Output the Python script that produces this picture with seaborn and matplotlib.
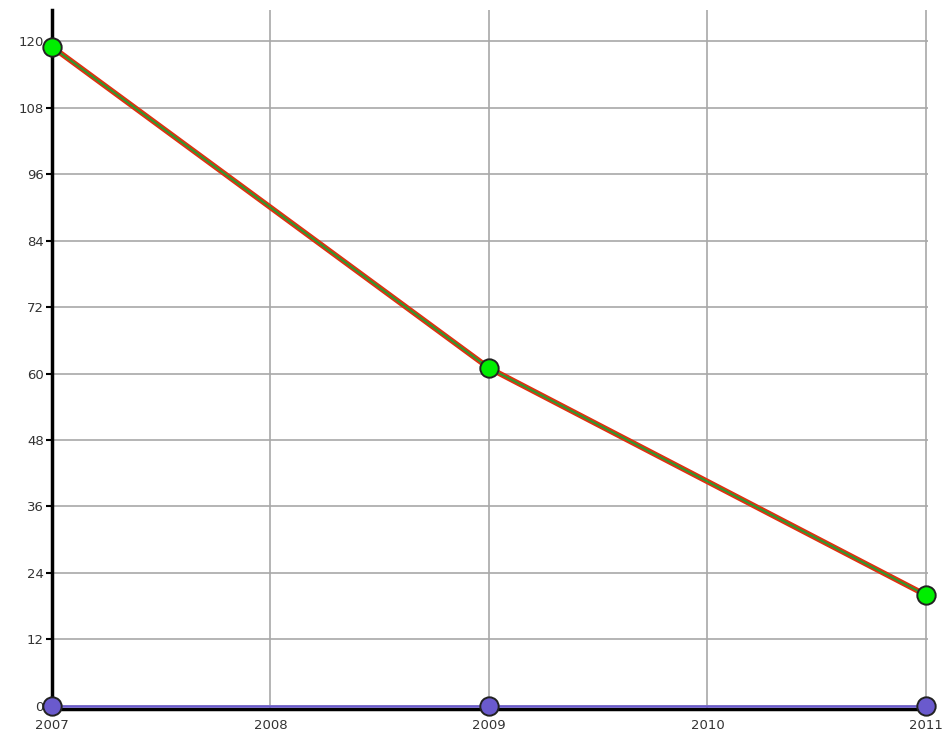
import matplotlib
matplotlib.use("Agg")
import matplotlib.pyplot as plt
import matplotlib.patheffects as pe
import pandas as pd
import seaborn as sns

# data
years = [2007, 2009, 2011]
series_a = [119, 61, 20]
series_b = [0, 0, 0]
yticks = list(range(0, 121, 12))
xticks = [2007, 2008, 2009, 2010, 2011]

df_a = pd.DataFrame({'year': years, 'value': series_a})
df_b = pd.DataFrame({'year': years, 'value': series_b})

sns.set_style('white')
plt.rcParams['font.family'] = ['DejaVu Sans']

fig = plt.figure(figsize=(9.46, 7.36), dpi=100)
ax = fig.add_axes([0.055, 0.037, 0.926, 0.949])

# lines
sns.lineplot(data=df_a, x='year', y='value', ax=ax, color='#2e9a2e', linewidth=1.5, zorder=3)
ax.lines[-1].set_path_effects([pe.Stroke(linewidth=4.0, foreground='#e03010'), pe.Normal()])
sns.lineplot(data=df_b, x='year', y='value', ax=ax, color='#6a5acd', linewidth=1.8, zorder=3)

# markers
sns.scatterplot(data=df_a, x='year', y='value', ax=ax, s=175, color='#00ee00',
                edgecolor='#222222', linewidth=1.4, zorder=5, clip_on=False)
sns.scatterplot(data=df_b, x='year', y='value', ax=ax, s=175, color='#6a5acd',
                edgecolor='#222222', linewidth=1.4, zorder=5, clip_on=False)

ax.set_xlim(2007, 2011.01)
ax.set_ylim(-0.55, 125.6)
ax.set_xticks(xticks)
ax.set_xticklabels([str(x) for x in xticks])
ax.set_yticks(yticks)
ax.set_xlabel('')
ax.set_ylabel('')

ax.grid(True, color='#a8a8a8', linewidth=1.2)
ax.set_axisbelow(True)
for s in ['top', 'right']:
    ax.spines[s].set_visible(False)
ax.spines['left'].set_color('black')
ax.spines['left'].set_linewidth(2.5)
ax.spines['bottom'].set_color('black')
ax.spines['bottom'].set_linewidth(2.5)
ax.tick_params(axis='y', left=True, length=4, width=1.5, color='black', pad=2, labelsize=9.5, labelcolor='#333333')
ax.tick_params(axis='x', bottom=False, pad=4, labelsize=9.5, labelcolor='#333333')

fig.savefig('out.png', dpi=100)
